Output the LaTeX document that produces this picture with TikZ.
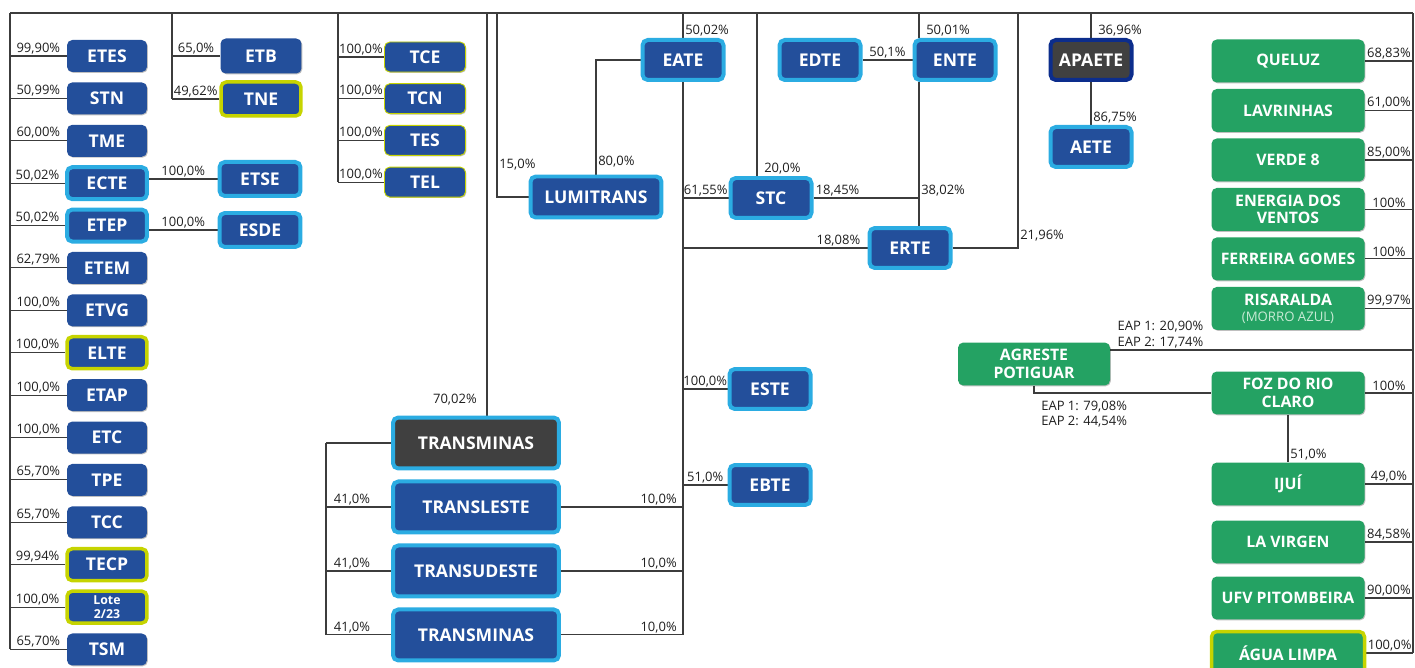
\documentclass[tikz,border=0pt]{standalone}
\usepackage{fontspec}
\setmainfont{Open Sans}
\usetikzlibrary{backgrounds,shadows}

\definecolor{cblue}{HTML}{234F9B}
\definecolor{ccyan}{HTML}{2BACE2}
\definecolor{clime}{HTML}{C6D400}
\definecolor{cgreen}{HTML}{24A263}
\definecolor{cgray}{HTML}{404040}
\definecolor{cnavy}{HTML}{0C2D8C}
\definecolor{cline}{HTML}{3C3C3C}
\definecolor{ctext}{HTML}{1E1E1E}
\definecolor{cpale}{HTML}{C8EBD5}

\tikzstyle{blk} = [rectangle, rounded corners=3pt, fill=cblue, text=white, align=center, inner sep=1pt,
    font=\bfseries\fontsize{10}{11}\selectfont,
    drop shadow={shadow xshift=0.5pt, shadow yshift=-0.5pt, opacity=0.25, fill=black}]
\tikzstyle{sblk} = [blk, minimum width=1.6cm, minimum height=0.64cm]
\tikzstyle{tblk} = [blk, draw=clime, line width=0.5pt, minimum width=1.62cm, minimum height=0.6cm]
\tikzstyle{mblk} = [blk, minimum width=1.62cm, minimum height=0.8cm]
\tikzstyle{wblk} = [blk, minimum width=3.32cm, minimum height=1.02cm]
\tikzstyle{gblk} = [blk, fill=cgreen, font=\bfseries\fontsize{9}{10}\selectfont, minimum width=3.06cm, minimum height=0.86cm]
\tikzstyle{cyanb} = [draw=ccyan, line width=0.08cm]
\tikzstyle{limeb} = [draw=clime, line width=0.07cm]
\tikzstyle{pct} = [font=\fontsize{7.4}{8.6}\selectfont, text=ctext, inner sep=1pt]
\tikzstyle{wire} = [draw=cline, line width=0.6pt]

\begin{document}
\begin{tikzpicture}[x=0.02cm, y=-0.02cm, node distance=0.848cm]
    \useasboundingbox (0,0) rectangle (1415,668);

    % drop points on the top bus
    \coordinate (tL) at (10,13);
    \coordinate (tB) at (172,13);
    \coordinate (tT) at (338,13);
    \coordinate (tM) at (487,13);
    \coordinate (tLu) at (497,13);
    \coordinate (tE) at (683,13);
    \coordinate (tS) at (757,13);
    \coordinate (tN) at (919,13);
    \coordinate (tR) at (1018,13);
    \coordinate (tA) at (1091,13);
    \coordinate (tG) at (1413,13);
    \coordinate (bk) at (326,445);

    % left column
    \node [sblk] (ETES) at (107,56) {ETES};
    \node [sblk, below of=ETES] (STN) {STN};
    \node [sblk, below of=STN] (TME) {TME};
    \node [sblk, cyanb, below of=TME] (ECTE) {ECTE};
    \node [sblk, cyanb, below of=ECTE] (ETEP) {ETEP};
    \node [sblk, below of=ETEP] (ETEM) {ETEM};
    \node [sblk, below of=ETEM] (ETVG) {ETVG};
    \node [sblk, limeb, below of=ETVG] (ELTE) {ELTE};
    \node [sblk, below of=ELTE] (ETAP) {ETAP};
    \node [sblk, below of=ETAP] (ETC) {ETC};
    \node [sblk, below of=ETC] (TPE) {TPE};
    \node [sblk, below of=TPE] (TCC) {TCC};
    \node [sblk, limeb, below of=TCC] (TECP) {TECP};
    \node [sblk, limeb, below of=TECP, font=\bfseries\fontsize{7}{8}\selectfont] (Lote) {Lote\\2/23};
    \node [sblk, below of=Lote] (TSM) {TSM};

    % second column
    \node [sblk, minimum width=1.62cm, minimum height=0.7cm] (ETB) at (261,56) {ETB};
    \node [sblk, limeb, minimum height=0.68cm, below of=ETB, node distance=0.86cm] (TNE) {TNE};
    \node [sblk, cyanb, minimum width=1.62cm, minimum height=0.68cm] (ETSE) at (260,179) {ETSE};
    \node [sblk, cyanb, minimum width=1.62cm, minimum height=0.68cm] (ESDE) at (260,230) {ESDE};

    \node [tblk] (TCE) at (425,57) {TCE};
    \node [tblk, below of=TCE, node distance=0.834cm] (TCN) {TCN};
    \node [tblk, below of=TCN, node distance=0.834cm] (TES) {TES};
    \node [tblk, below of=TES, node distance=0.834cm] (TEL) {TEL};

    % middle
    \node [blk, cyanb, minimum width=2.62cm, minimum height=0.82cm] (LUMITRANS) at (596,197) {LUMITRANS};
    \node [mblk, cyanb] (EATE) at (683,60) {EATE};
    \node [mblk, cyanb] (EDTE) at (820,60) {EDTE};
    \node [mblk, cyanb] (ENTE) at (955,60) {ENTE};
    \node [mblk, cyanb] (STC) at (771,198) {STC};
    \node [mblk, cyanb] (ERTE) at (910,248) {ERTE};
    \node [mblk, cyanb] (ESTE) at (770,389) {ESTE};
    \node [mblk, cyanb] (EBTE) at (770,485) {EBTE};
    \node [mblk, fill=cgray, draw=cnavy, line width=0.08cm] (APAETE) at (1091,60) {APAETE};
    \node [mblk, cyanb] (AETE) at (1091,147) {AETE};

    \node [wblk, cyanb, fill=cgray] (TRANSg) at (476,443) {TRANSMINAS};
    \node [wblk, cyanb, below of=TRANSg, node distance=1.28cm] (TRANSL) {TRANSLESTE};
    \node [wblk, cyanb, below of=TRANSL, node distance=1.28cm] (TRANSU) {TRANSUDESTE};
    \node [wblk, cyanb, below of=TRANSU, node distance=1.28cm] (TRANSMb) {TRANSMINAS};

    % right column
    \node [gblk] (QUELUZ) at (1288,61) {QUELUZ};
    \node [gblk, below of=QUELUZ, node distance=0.99cm] (LAVR) {LAVRINHAS};
    \node [gblk, below of=LAVR, node distance=0.99cm] (VERDE) {VERDE 8};
    \node [gblk, below of=VERDE, node distance=0.99cm] (ENERGIA) {ENERGIA DOS\\VENTOS};
    \node [gblk, below of=ENERGIA, node distance=0.99cm] (FERREIRA) {FERREIRA GOMES};
    \node [gblk, below of=FERREIRA, node distance=0.99cm] (RISA) {RISARALDA\\[-1pt]{\mdseries\fontsize{7.5}{8}\selectfont\color{cpale}(MORRO AZUL)}};
    \node [gblk, minimum width=3.04cm] (AGR) at (1034,364) {AGRESTE\\POTIGUAR};
    \node [gblk] (FOZ) at (1288,393) {FOZ DO RIO\\CLARO};
    \node [gblk] (IJUI) at (1288,484) {IJUÍ};
    \node [gblk] (LAVIRGEN) at (1288,542) {LA VIRGEN};
    \node [gblk] (UFV) at (1288,598) {UFV PITOMBEIRA};
    \node [gblk, limeb] (AGUA) at (1288,653) {ÁGUA LIMPA};
    \coordinate (agr) at ([yshift=0.28cm]AGR.east);

    \begin{pgfonlayer}{background}
    % top bus
    \draw [wire] (tL) -- (tG);

    % left column links
    \draw [wire] (tL) -- (tL |- TSM.west);
    \foreach \n/\p in {ETES/{99,90}, STN/{50,99}, TME/{60,00}, ECTE/{50,02}, ETEP/{50,02}, ETEM/{62,79}, ETVG/{100,0}, ELTE/{100,0}, ETAP/{100,0}, ETC/{100,0}, TPE/{65,70}, TCC/{65,70}, TECP/{99,94}, Lote/{100,0}, TSM/{65,70}}
        \draw [wire] (tL |- \n.west) -- node [pct, above] {\p\%} (\n.west);

    \draw [wire] (tB) -- (tB |- TNE.west);
    \draw [wire] (tB |- ETB.west) -- node [pct, above] {65,0\%} (ETB.west);
    \draw [wire] (tB |- TNE.west) -- node [pct, above] {49,62\%} (TNE.west);
    \draw [wire] (ECTE.east |- ETSE.west) -- node [pct, above] {100,0\%} (ETSE.west);
    \draw [wire] (ETEP.east |- ESDE.west) -- node [pct, above] {100,0\%} (ESDE.west);

    \draw [wire] (tT) -- (tT |- TEL.west);
    \foreach \n in {TCE,TCN,TES,TEL}
        \draw [wire] (tT |- \n.west) -- node [pct, above] {100,0\%} (\n.west);

    % middle links
    \draw [wire] (tLu) |- node [pct, above right, pos=0.5, yshift=0.5cm] {15,0\%} (LUMITRANS.west);
    \draw [wire] (LUMITRANS.north) |- node [pct, above right, pos=0, yshift=0.1cm] {80,0\%} (EATE.west);
    \draw [wire] (tE) -- node [pct, above right, pos=1] {50,02\%} (tE |- EATE.north);
    \draw [wire] (tE |- EATE.south) -- (tE |- TRANSMb.east);
    \draw [wire] (tE |- STC.west) -- node [pct, above] {61,55\%} (STC.west);
    \draw [wire] (tS) -- node [pct, above right, pos=1, xshift=0.1cm] {20,0\%} (tS |- STC.north);
    \draw [wire] (STC.east) -- node [pct, above right, pos=0] {18,45\%}
        node [pct, above right, pos=1] {38,02\%} (tN |- STC.east);
    \draw [wire] (tN) -- node [pct, above right, pos=1, xshift=0.1cm] {50,01\%} (tN |- ENTE.north);
    \draw [wire] (tN |- ENTE.south) -- (tN |- ERTE.north);
    \draw [wire] (EDTE.east) -- node [pct, above] {50,1\%} (ENTE.west);
    \draw [wire] (tE |- ERTE.west) -- node [pct, above left, pos=1, xshift=-0.1cm] {18,08\%} (ERTE.west);
    \draw [wire] (ERTE.east) -| node [pct, above right, pos=0.5, yshift=0.1cm] {21,96\%} (tR);
    \draw [wire] (tA) -- node [pct, above right, pos=1, xshift=0.1cm] {36,96\%} (APAETE.north);
    \draw [wire] (APAETE.south) -- node [pct, above right, pos=1] {86,75\%} (AETE.north);
    \draw [wire] (tE |- ESTE.west) -- node [pct, above] {100,0\%} (ESTE.west);
    \draw [wire] (tE |- EBTE.west) -- node [pct, above] {51,0\%} (EBTE.west);

    % transminas group
    \draw [wire] (tM) -- node [pct, above left, pos=1, xshift=-0.16cm, yshift=0.16cm] {70,02\%} (tM |- TRANSg.north);
    \draw [wire] (bk |- TRANSg.west) -- (TRANSg.west);
    \draw [wire] (bk |- TRANSg.west) -- (bk |- TRANSMb.west);
    \foreach \n in {TRANSL,TRANSU,TRANSMb} {
        \draw [wire] (bk |- \n.west) -- node [pct, above, pos=0.4] {41,0\%} (\n.west);
        \draw [wire] (\n.east) -- node [pct, above, pos=0.8] {10,0\%} (tE |- \n.east);
    }

    % right column links
    \draw [wire] (tG) -- (tG |- AGUA.east);
    \foreach \n/\p in {QUELUZ/{68,83}, LAVR/{61,00}, VERDE/{85,00}, ENERGIA/{100}, FERREIRA/{100}, RISA/{99,97}, FOZ/{100}, IJUI/{49,0}, LAVIRGEN/{84,58}, UFV/{90,00}, AGUA/{100,0}}
        \draw [wire] (\n.east) -- node [pct, above] {\p\%} (tG |- \n.east);
    \draw [wire] (agr) -- node [pct, above right, pos=0, align=left, xshift=0.1cm] {EAP 1: 20,90\%\\EAP 2: 17,74\%} (tG |- agr);
    \draw [wire] (AGR.south) |- node [pct, below right, pos=0.5, align=left, xshift=0.1cm, yshift=-0.12cm] {EAP 1: 79,08\%\\EAP 2: 44,54\%} (FOZ.west);
    \draw [wire] (FOZ.south) -- node [pct, above right, pos=1] {51,0\%} (IJUI.north);
    \end{pgfonlayer}

\end{tikzpicture}
\end{document}
